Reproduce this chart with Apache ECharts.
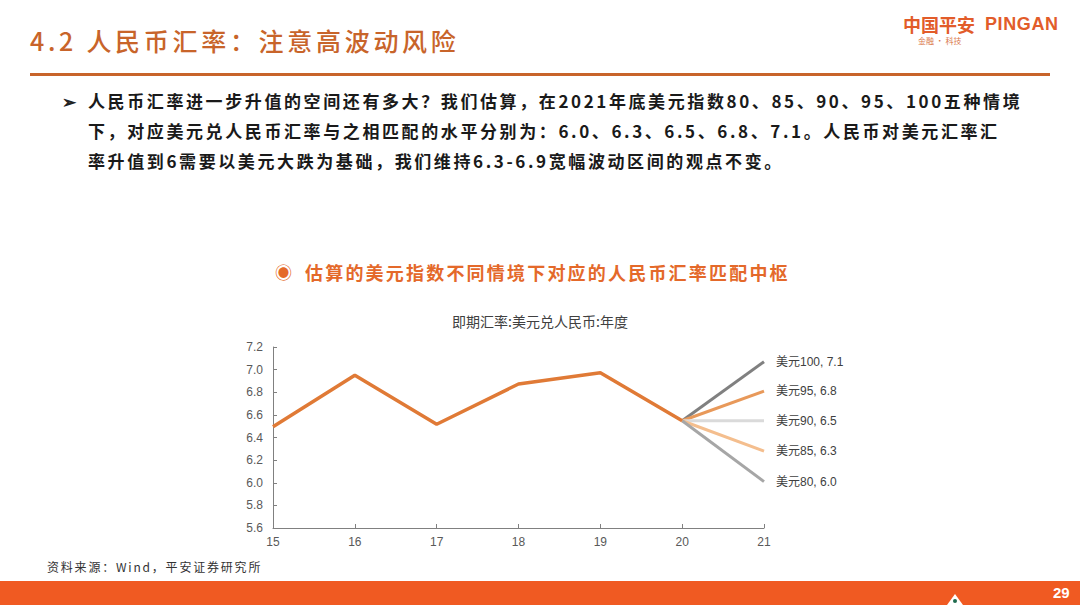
<!DOCTYPE html>
<html>
<head>
<meta charset="utf-8">
<script src="https://cdn.jsdelivr.net/npm/echarts@6/dist/echarts.min.js"></script>
<style>
  html, body { margin:0; padding:0; background:#fff; }
  #wrap { position:relative; width:1080px; height:608px; overflow:hidden; font-family:"Noto Sans CJK SC", sans-serif; }
  #chart { position:absolute; left:0; top:0; width:1080px; height:608px; }
  .t { position:absolute; white-space:nowrap; pointer-events:none; }
</style>
</head>
<body>
<div id="wrap">
  <div id="chart"></div>
  <div class="t" style="left:30px;top:25px;font-size:25px;line-height:30px;letter-spacing:3.7px;color:#C8642A;font-weight:500;">4.2 人民币汇率：注意高波动风险</div>
  <div class="t" style="left:30px;top:73px;width:1020px;height:3px;background:#C8642A;"></div>
  <div class="t" style="left:903px;top:13px;font-size:18px;line-height:22px;font-weight:700;color:#E25C2A;">中国平安</div>
  <div class="t" style="left:985px;top:13px;font-size:18px;line-height:22px;font-weight:700;color:#E25C2A;letter-spacing:0.6px;font-family:'Liberation Sans',Arial,sans-serif;">PINGAN</div>
  <div class="t" style="left:918px;top:36px;font-size:8px;line-height:10px;color:#D9774A;">金融 · 科技</div>

  <div class="t" style="left:62px;top:88px;font-size:17px;line-height:26px;color:#222;font-weight:700;">➢</div>
  <div class="t" style="left:88px;top:86px;font-size:17px;line-height:30px;letter-spacing:2.6px;color:#1a1a1a;font-weight:700;">人民币汇率进一步升值的空间还有多大？我们估算，在2021年底美元指数80、85、90、95、100五种情境</div>
  <div class="t" style="left:88px;top:116px;font-size:17px;line-height:30px;letter-spacing:2.6px;color:#1a1a1a;font-weight:700;">下，对应美元兑人民币汇率与之相匹配的水平分别为：6.0、6.3、6.5、6.8、7.1。人民币对美元汇率汇</div>
  <div class="t" style="left:88px;top:146px;font-size:17px;line-height:30px;letter-spacing:2.6px;color:#1a1a1a;font-weight:700;">率升值到6需要以美元大跌为基础，我们维持6.3-6.9宽幅波动区间的观点不变。</div>

  <div class="t" style="left:275px;top:260px;font-size:17px;line-height:24px;color:#E4692A;">◉</div>
  <div class="t" style="left:305px;top:260px;font-size:18px;line-height:24px;letter-spacing:2.2px;color:#E4692A;font-weight:700;">估算的美元指数不同情境下对应的人民币汇率匹配中枢</div>
  <div class="t" style="left:340px;width:400px;text-align:center;top:311px;font-size:14px;line-height:20px;color:#404040;">即期汇率:美元兑人民币:年度</div>

  <div class="t" style="left:47px;top:559px;font-size:12px;line-height:16px;letter-spacing:1.8px;color:#333;">资料来源：Wind，平安证券研究所</div>
  <div class="t" style="left:0px;top:581px;width:1080px;height:24px;background:#F05A22;"></div>
  <div class="t" style="left:947px;top:594px;width:16px;height:11px;background:#fff;clip-path:polygon(50% 0,100% 100%,0 100%);"></div>
  <div class="t" style="left:953px;top:599px;width:4px;height:4px;background:#1f6b4f;border-radius:2px;"></div>
  <div class="t" style="left:1053px;top:582px;font-size:15px;line-height:22px;color:#fff;font-weight:700;font-family:'Liberation Sans',Arial,sans-serif;">29</div>
</div>
<script>
const categories = ['15', '16', '17', '18', '19', '20', '21'];
const history = [6.495, 6.95, 6.517, 6.873, 6.973, 6.548, null];
const scenarioNames = ['美元100, 7.1', '美元95, 6.8', '美元90, 6.5', '美元85, 6.3', '美元80, 6.0'];
const scenarioEnd = [7.07, 6.81, 6.548, 6.28, 6.01];
const scenarioStart = 6.548;
const scenarioColors = ['#808080', '#E8995A', '#DADADA', '#F4BE8E', '#A6A6A6'];
const yTicks = { min: 5.6, max: 7.2, interval: 0.2 };

const chart = echarts.init(document.getElementById('chart'), null, { renderer: 'svg' });
const axisFont = "'Liberation Sans', Arial, 'Noto Sans CJK SC', sans-serif";

const series = scenarioNames.map((name, i) => {
  const data = categories.map(() => null);
  data[5] = scenarioStart;
  data[6] = scenarioEnd[i];
  return {
    name, type: 'line', data, symbol: 'none', silent: true,
    lineStyle: { color: scenarioColors[i], width: 3 },
    endLabel: { show: true, formatter: name, color: '#404040', fontSize: 12, distance: 12, fontFamily: axisFont },
    z: 2
  };
});
series.push({
  name: '即期汇率', type: 'line', data: history, symbol: 'none', silent: true,
  lineStyle: { color: '#E07A36', width: 3.5 }, z: 3
});

chart.setOption({
  animation: false,
  grid: { left: 273, right: 316, top: 347, bottom: 80 },
  xAxis: {
    type: 'category', data: categories, boundaryGap: false,
    axisLine: { lineStyle: { color: '#808080', width: 1 } },
    axisTick: { show: true, inside: true, length: 4, lineStyle: { color: '#808080' } },
    axisLabel: { color: '#595959', fontSize: 12, margin: 8, fontFamily: axisFont }
  },
  yAxis: {
    type: 'value', min: yTicks.min, max: yTicks.max, interval: yTicks.interval,
    axisLine: { show: true, lineStyle: { color: '#808080', width: 1 } },
    axisTick: { show: true, inside: true, length: 4, lineStyle: { color: '#808080' } },
    splitLine: { show: false },
    axisLabel: { color: '#595959', fontSize: 12, margin: 10, fontFamily: axisFont, formatter: v => v.toFixed(1) }
  },
  series
});
</script>
</body>
</html>
